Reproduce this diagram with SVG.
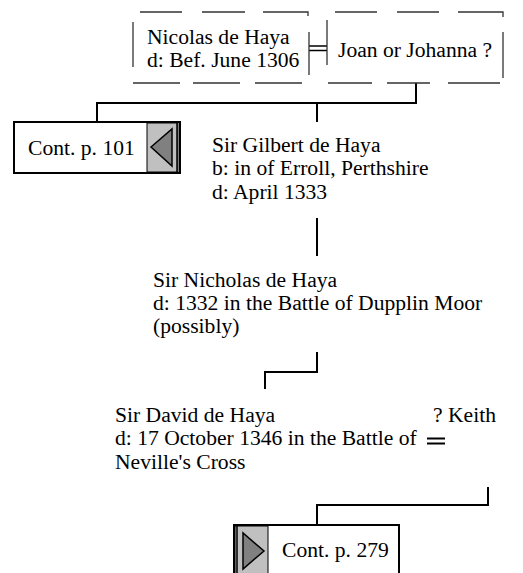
<svg xmlns="http://www.w3.org/2000/svg" width="523" height="573" viewBox="0 0 523 573">
<style>
text{font-family:"Liberation Serif","Times New Roman",Times,serif;font-size:21.6px;fill:#000}
.dash{stroke:#333;stroke-width:1.3;fill:none}
.conn{stroke:#000;stroke-width:2;fill:none}
.box{fill:#fff;stroke:#000;stroke-width:2}
.tab{fill:#c0c0c0;stroke:#000;stroke-width:1}
.tri{fill:#808080;stroke:#000;stroke-width:1.5}
</style>
<rect width="523" height="573" fill="#fff"/>
<g id="connectors">
<path class="conn" d="M416,83 V103 H97 V122"/>
<path class="conn" d="M317,103 V122"/>
<path class="conn" d="M317,218 V256"/>
<path class="conn" d="M317,352 V372 H265 V389"/>
<path class="conn" d="M488,487 V505 H317 V525"/>
<path stroke="#000" stroke-width="1.5" d="M309,46 H327 M309,50.5 H327"/>
<path stroke="#000" stroke-width="2" d="M427,438.5 H445 M427,443.5 H445"/>
</g>
<g id="nicolas">
<path class="dash" d="M140,12 H182 M202,12 H245 M263,12 H308 V16 M133,22 V67 M133,83 H180 M193,83 H240 M255,83 H302 M309,32 V75"/>
<text x="147" y="44">Nicolas de Haya</text>
<text x="147" y="67">d: Bef. June 1306</text>
</g>
<g id="joan">
<path class="dash" d="M335,12 H377 M397,12 H439 M458,12 H503 V17 M327,20 V65 M328,83 H372 M387,83 H430 M448,83 H500 M503,32 V78"/>
<text x="338" y="57">Joan or Johanna ?</text>
</g>
<g id="cont101">
<rect class="box" x="14" y="122" width="166" height="51"/>
<rect class="tab" x="147" y="123" width="31" height="49"/>
<line x1="177" y1="122" x2="177" y2="173" stroke="#000" stroke-width="1.5"/>
<polygon class="tri" points="151,147 172,129 172,166"/>
<text x="28" y="155">Cont. p. 101</text>
</g>
<g id="gilbert">
<text x="212" y="152">Sir Gilbert de Haya</text>
<text x="212" y="175">b: in of Erroll, Perthshire</text>
<text x="212" y="199">d: April 1333</text>
</g>
<g id="nicholas">
<text x="153" y="287">Sir Nicholas de Haya</text>
<text x="153" y="310">d: 1332 in the Battle of Dupplin Moor</text>
<text x="153" y="333">(possibly)</text>
</g>
<g id="david">
<text x="115" y="422">Sir David de Haya</text>
<text x="115" y="445">d: 17 October 1346 in the Battle of</text>
<text x="115" y="469">Neville's Cross</text>
</g>
<g id="keith">
<text x="433" y="422">? Keith</text>
</g>
<g id="cont279">
<rect class="box" x="234" y="525" width="165" height="52"/>
<rect class="tab" x="235" y="526" width="33" height="50"/>
<line x1="237" y1="525" x2="237" y2="577" stroke="#000" stroke-width="1.5"/>
<polygon class="tri" points="243,533 243,569 264,551"/>
<text x="282" y="557">Cont. p. 279</text>
</g>
</svg>
